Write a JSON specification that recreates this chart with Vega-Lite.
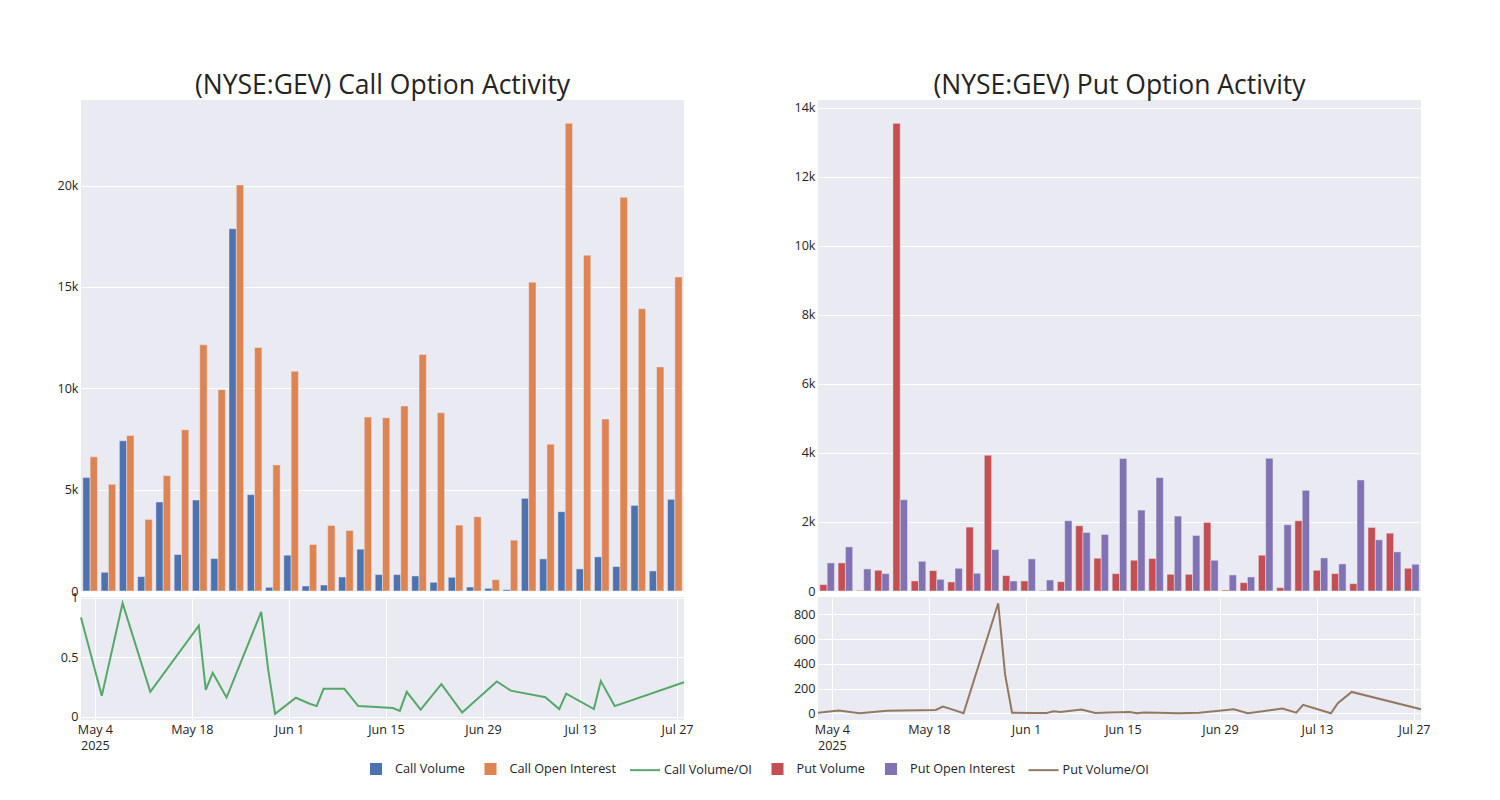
{
  "$schema": "https://vega.github.io/schema/vega-lite/v6.json",
  "autosize": {"type": "pad"},
  "padding": {"left": 56, "top": 72, "right": 10, "bottom": 10},
  "background": "white",
  "config": {
    "view": {"fill": "#EAEAF2", "stroke": null},
    "font": "Open Sans",
    "axis": {"labelFont": "Open Sans", "labelFontSize": 12.6, "labelColor": "#242424", "gridColor": "#FFFFFF", "gridWidth": 1, "domain": false, "ticks": false, "title": null, "labelPadding": 3},
    "title": {"font": "Open Sans", "fontSize": 26.5, "fontWeight": "normal", "color": "#242424", "anchor": "middle"}
  },
  "datasets": {
    "d": [
      {"date": "2025-05-02", "Call Volume": 5594, "Call Open Interest": 6617, "Call Volume/OI": 0.834, "Put Volume": 184, "Put Open Interest": 814, "Put Volume/OI": 5},
      {"date": "2025-05-05", "Call Volume": 924, "Call Open Interest": 5264, "Call Volume/OI": 0.176, "Put Volume": 814, "Put Open Interest": 1279, "Put Volume/OI": 22},
      {"date": "2025-05-08", "Call Volume": 7409, "Call Open Interest": 7673, "Call Volume/OI": 0.955, "Put Volume": 19, "Put Open Interest": 640, "Put Volume/OI": 0},
      {"date": "2025-05-12", "Call Volume": 710, "Call Open Interest": 3531, "Call Volume/OI": 0.21, "Put Volume": 601, "Put Open Interest": 504, "Put Volume/OI": 20},
      {"date": "2025-05-19", "Call Volume": 4389, "Call Open Interest": 5693, "Call Volume/OI": 0.767, "Put Volume": 13547, "Put Open Interest": 2645, "Put Volume/OI": 27},
      {"date": "2025-05-20", "Call Volume": 1799, "Call Open Interest": 7953, "Call Volume/OI": 0.227, "Put Volume": 291, "Put Open Interest": 862, "Put Volume/OI": 55},
      {"date": "2025-05-21", "Call Volume": 4488, "Call Open Interest": 12144, "Call Volume/OI": 0.37, "Put Volume": 591, "Put Open Interest": 339, "Put Volume/OI": 38},
      {"date": "2025-05-23", "Call Volume": 1600, "Call Open Interest": 9933, "Call Volume/OI": 0.162, "Put Volume": 262, "Put Open Interest": 659, "Put Volume/OI": 0},
      {"date": "2025-05-28", "Call Volume": 17870, "Call Open Interest": 20031, "Call Volume/OI": 0.882, "Put Volume": 1851, "Put Open Interest": 514, "Put Volume/OI": 889},
      {"date": "2025-05-29", "Call Volume": 4752, "Call Open Interest": 12012, "Call Volume/OI": 0.4, "Put Volume": 3934, "Put Open Interest": 1202, "Put Volume/OI": 310},
      {"date": "2025-05-30", "Call Volume": 182, "Call Open Interest": 6220, "Call Volume/OI": 0.025, "Put Volume": 446, "Put Open Interest": 291, "Put Volume/OI": 5},
      {"date": "2025-06-02", "Call Volume": 1766, "Call Open Interest": 10840, "Call Volume/OI": 0.16, "Put Volume": 291, "Put Open Interest": 930, "Put Volume/OI": 3},
      {"date": "2025-06-04", "Call Volume": 248, "Call Open Interest": 2294, "Call Volume/OI": 0.11, "Put Volume": 19, "Put Open Interest": 320, "Put Volume/OI": 2},
      {"date": "2025-06-05", "Call Volume": 297, "Call Open Interest": 3234, "Call Volume/OI": 0.09, "Put Volume": 271, "Put Open Interest": 2035, "Put Volume/OI": 17},
      {"date": "2025-06-06", "Call Volume": 693, "Call Open Interest": 2987, "Call Volume/OI": 0.235, "Put Volume": 1890, "Put Open Interest": 1696, "Put Volume/OI": 11},
      {"date": "2025-06-09", "Call Volume": 2063, "Call Open Interest": 8580, "Call Volume/OI": 0.235, "Put Volume": 950, "Put Open Interest": 1638, "Put Volume/OI": 31},
      {"date": "2025-06-11", "Call Volume": 809, "Call Open Interest": 8547, "Call Volume/OI": 0.09, "Put Volume": 504, "Put Open Interest": 3837, "Put Volume/OI": 3},
      {"date": "2025-06-13", "Call Volume": 809, "Call Open Interest": 9125, "Call Volume/OI": 0.085, "Put Volume": 891, "Put Open Interest": 2345, "Put Volume/OI": 6},
      {"date": "2025-06-16", "Call Volume": 743, "Call Open Interest": 11666, "Call Volume/OI": 0.073, "Put Volume": 940, "Put Open Interest": 3285, "Put Volume/OI": 11},
      {"date": "2025-06-17", "Call Volume": 429, "Call Open Interest": 8795, "Call Volume/OI": 0.05, "Put Volume": 484, "Put Open Interest": 2171, "Put Volume/OI": 0},
      {"date": "2025-06-18", "Call Volume": 677, "Call Open Interest": 3251, "Call Volume/OI": 0.21, "Put Volume": 484, "Put Open Interest": 1609, "Put Volume/OI": 6},
      {"date": "2025-06-20", "Call Volume": 198, "Call Open Interest": 3663, "Call Volume/OI": 0.06, "Put Volume": 1986, "Put Open Interest": 891, "Put Volume/OI": 5},
      {"date": "2025-06-23", "Call Volume": 132, "Call Open Interest": 561, "Call Volume/OI": 0.275, "Put Volume": 29, "Put Open Interest": 465, "Put Volume/OI": 0},
      {"date": "2025-06-26", "Call Volume": 66, "Call Open Interest": 2508, "Call Volume/OI": 0.036, "Put Volume": 242, "Put Open Interest": 407, "Put Volume/OI": 5},
      {"date": "2025-07-01", "Call Volume": 4571, "Call Open Interest": 15230, "Call Volume/OI": 0.297, "Put Volume": 1037, "Put Open Interest": 3847, "Put Volume/OI": 33},
      {"date": "2025-07-03", "Call Volume": 1584, "Call Open Interest": 7244, "Call Volume/OI": 0.22, "Put Volume": 97, "Put Open Interest": 1919, "Put Volume/OI": 0},
      {"date": "2025-07-08", "Call Volume": 3911, "Call Open Interest": 23067, "Call Volume/OI": 0.165, "Put Volume": 2035, "Put Open Interest": 2917, "Put Volume/OI": 38},
      {"date": "2025-07-10", "Call Volume": 1089, "Call Open Interest": 16566, "Call Volume/OI": 0.065, "Put Volume": 601, "Put Open Interest": 959, "Put Volume/OI": 5},
      {"date": "2025-07-11", "Call Volume": 1683, "Call Open Interest": 8481, "Call Volume/OI": 0.195, "Put Volume": 504, "Put Open Interest": 785, "Put Volume/OI": 68},
      {"date": "2025-07-15", "Call Volume": 1205, "Call Open Interest": 19421, "Call Volume/OI": 0.065, "Put Volume": 213, "Put Open Interest": 3217, "Put Volume/OI": 0},
      {"date": "2025-07-16", "Call Volume": 4224, "Call Open Interest": 13926, "Call Volume/OI": 0.3, "Put Volume": 1841, "Put Open Interest": 1483, "Put Volume/OI": 82},
      {"date": "2025-07-18", "Call Volume": 990, "Call Open Interest": 11055, "Call Volume/OI": 0.09, "Put Volume": 1676, "Put Open Interest": 1134, "Put Volume/OI": 173},
      {"date": "2025-07-28", "Call Volume": 4521, "Call Open Interest": 15494, "Call Volume/OI": 0.29, "Put Volume": 659, "Put Open Interest": 775, "Put Volume/OI": 33}
    ]
  },
  "data": {"name": "d"},
  "columns": 2,
  "spacing": {"row": 6, "column": 134},
  "bounds": "flush",
  "resolve": {"scale": {"color": "shared", "xOffset": "independent"}, "legend": {"color": "shared"}},
  "concat": [
    {
      "width": 603, "height": 491,
      "title": {"text": "(NYSE:GEV) Call Option Activity", "offset": -20, "baseline": "alphabetic"},
      "layer": [
        {
          "transform": [{"fold": ["Call Volume", "Call Open Interest"], "as": ["series", "value"]}],
          "mark": {"type": "bar", "stroke": "#EAEAF2", "strokeWidth": 0.5},
          "encoding": {
            "x": {"field": "date", "type": "ordinal", "scale": {"paddingInner": 0.2, "paddingOuter": 0.1}, "axis": {"values": ["2025-05-02", "2025-05-20", "2025-05-30", "2025-06-09", "2025-06-18", "2025-07-03", "2025-07-16"], "labels": false, "grid": true}},
            "xOffset": {"field": "series", "type": "nominal", "scale": {"domain": ["Call Volume", "Call Open Interest"], "paddingInner": 0, "paddingOuter": 0}},
            "y": {"field": "value", "type": "quantitative", "scale": {"domain": [0, 24220], "nice": false}, "axis": {"values": [0, 5000, 10000, 15000, 20000], "labelExpr": "datum.value == 0 ? '0' : (datum.value / 1000) + 'k'"}},
            "color": {"field": "series", "type": "nominal",
              "scale": {"domain": ["Call Volume", "Call Open Interest", "Call Volume/OI", "Put Volume", "Put Open Interest", "Put Volume/OI"], "range": ["#4C72B0", "#DD8452", "#55A868", "#C44E52", "#8172B3", "#937860"]},
              "legend": {"title": null, "orient": "none", "legendX": 279, "legendY": 653, "direction": "horizontal", "symbolSize": 900, "symbolStrokeWidth": 2, "symbolOpacity": 1, "labelFont": "Open Sans", "labelFontSize": 12.7, "labelColor": "#242424", "labelOffset": 3, "columnPadding": 9.5}}
          }
        },
        {
          "transform": [{"fold": ["Call Volume", "Call Open Interest", "Call Volume/OI", "Put Volume", "Put Open Interest", "Put Volume/OI"], "as": ["series", "value"]}],
          "mark": {"type": "point", "filled": false, "opacity": 0, "strokeWidth": 2},
          "encoding": {
            "x": {"field": "date", "type": "ordinal"},
            "y": {"field": "value", "type": "quantitative", "scale": {"domain": [0, 24220], "nice": false}},
            "color": {"field": "series", "type": "nominal",
              "scale": {"domain": ["Call Volume", "Call Open Interest", "Call Volume/OI", "Put Volume", "Put Open Interest", "Put Volume/OI"], "range": ["#4C72B0", "#DD8452", "#55A868", "#C44E52", "#8172B3", "#937860"]},
              "legend": {"title": null, "orient": "none", "legendX": 279, "legendY": 653, "direction": "horizontal", "symbolSize": 900, "symbolStrokeWidth": 2, "symbolOpacity": 1, "labelFont": "Open Sans", "labelFontSize": 12.7, "labelColor": "#242424", "labelOffset": 3, "columnPadding": 9.5}},
            "shape": {"field": "series", "type": "nominal",
              "scale": {"domain": ["Call Volume", "Call Open Interest", "Call Volume/OI", "Put Volume", "Put Open Interest", "Put Volume/OI"], "range": [
                "M-0.4,-0.3333H0.4M-0.4,-0.2H0.4M-0.4,-0.0667H0.4M-0.4,0.0667H0.4M-0.4,0.2H0.4M-0.4,0.3333H0.4",
                "M-0.4,-0.3333H0.4M-0.4,-0.2H0.4M-0.4,-0.0667H0.4M-0.4,0.0667H0.4M-0.4,0.2H0.4M-0.4,0.3333H0.4",
                "M-1,0H1",
                "M-0.4,-0.3333H0.4M-0.4,-0.2H0.4M-0.4,-0.0667H0.4M-0.4,0.0667H0.4M-0.4,0.2H0.4M-0.4,0.3333H0.4",
                "M-0.4,-0.3333H0.4M-0.4,-0.2H0.4M-0.4,-0.0667H0.4M-0.4,0.0667H0.4M-0.4,0.2H0.4M-0.4,0.3333H0.4",
                "M-1,0H1"]},
              "legend": {"title": null, "orient": "none", "legendX": 279, "legendY": 653, "direction": "horizontal", "symbolSize": 900, "symbolStrokeWidth": 2, "symbolOpacity": 1, "labelFont": "Open Sans", "labelFontSize": 12.7, "labelColor": "#242424", "labelOffset": 3, "columnPadding": 9.5}}
          }
        }
      ]
    },
    {
      "width": 603, "height": 491,
      "title": {"text": "(NYSE:GEV) Put Option Activity", "offset": -20, "baseline": "alphabetic"},
      "transform": [{"fold": ["Put Volume", "Put Open Interest"], "as": ["series", "value"]}],
      "mark": {"type": "bar", "stroke": "#EAEAF2", "strokeWidth": 0.5},
      "encoding": {
        "x": {"field": "date", "type": "ordinal", "scale": {"paddingInner": 0.2, "paddingOuter": 0.1}, "axis": {"values": ["2025-05-02", "2025-05-20", "2025-05-30", "2025-06-09", "2025-06-18", "2025-07-03", "2025-07-16"], "labels": false, "grid": true}},
        "xOffset": {"field": "series", "type": "nominal", "scale": {"domain": ["Put Volume", "Put Open Interest"], "paddingInner": 0, "paddingOuter": 0}},
        "y": {"field": "value", "type": "quantitative", "scale": {"domain": [0, 14224], "nice": false}, "axis": {"values": [0, 2000, 4000, 6000, 8000, 10000, 12000, 14000], "labelExpr": "datum.value == 0 ? '0' : (datum.value / 1000) + 'k'"}},
        "color": {"field": "series", "type": "nominal",
          "scale": {"domain": ["Call Volume", "Call Open Interest", "Call Volume/OI", "Put Volume", "Put Open Interest", "Put Volume/OI"], "range": ["#4C72B0", "#DD8452", "#55A868", "#C44E52", "#8172B3", "#937860"]},
          "legend": null}
      }
    },
    {
      "width": 603, "height": 123,
      "transform": [{"fold": ["Call Volume/OI"], "as": ["series", "value"]}],
      "mark": {"type": "line", "strokeWidth": 2},
      "encoding": {
        "x": {"field": "date", "type": "temporal",
          "scale": {"type": "utc", "domain": [{"year": 2025, "month": 5, "date": 2, "utc": true}, {"year": 2025, "month": 7, "date": 28, "utc": true}]},
          "axis": {"grid": true, "labelLineHeight": 16,
            "values": [{"year": 2025, "month": 5, "date": 4, "utc": true}, {"year": 2025, "month": 5, "date": 18, "utc": true}, {"year": 2025, "month": 6, "date": 1, "utc": true}, {"year": 2025, "month": 6, "date": 15, "utc": true}, {"year": 2025, "month": 6, "date": 29, "utc": true}, {"year": 2025, "month": 7, "date": 13, "utc": true}, {"year": 2025, "month": 7, "date": 27, "utc": true}],
            "labelExpr": "(utcmonth(datum.value) == 4 && utcdate(datum.value) == 4) ? [utcFormat(datum.value, '%b %-d'), '2025'] : utcFormat(datum.value, '%b %-d')"}},
        "y": {"field": "value", "type": "quantitative", "scale": {"domain": [-0.027, 1.007], "nice": false, "zero": false}, "axis": {"values": [0, 0.5, 1], "format": "~g"}},
        "color": {"field": "series", "type": "nominal",
          "scale": {"domain": ["Call Volume", "Call Open Interest", "Call Volume/OI", "Put Volume", "Put Open Interest", "Put Volume/OI"], "range": ["#4C72B0", "#DD8452", "#55A868", "#C44E52", "#8172B3", "#937860"]},
          "legend": null}
      }
    },
    {
      "width": 603, "height": 123,
      "transform": [{"fold": ["Put Volume/OI"], "as": ["series", "value"]}],
      "mark": {"type": "line", "strokeWidth": 2},
      "encoding": {
        "x": {"field": "date", "type": "temporal",
          "scale": {"type": "utc", "domain": [{"year": 2025, "month": 5, "date": 2, "utc": true}, {"year": 2025, "month": 7, "date": 28, "utc": true}]},
          "axis": {"grid": true, "labelLineHeight": 16,
            "values": [{"year": 2025, "month": 5, "date": 4, "utc": true}, {"year": 2025, "month": 5, "date": 18, "utc": true}, {"year": 2025, "month": 6, "date": 1, "utc": true}, {"year": 2025, "month": 6, "date": 15, "utc": true}, {"year": 2025, "month": 6, "date": 29, "utc": true}, {"year": 2025, "month": 7, "date": 13, "utc": true}, {"year": 2025, "month": 7, "date": 27, "utc": true}],
            "labelExpr": "(utcmonth(datum.value) == 4 && utcdate(datum.value) == 4) ? [utcFormat(datum.value, '%b %-d'), '2025'] : utcFormat(datum.value, '%b %-d')"}},
        "y": {"field": "value", "type": "quantitative", "scale": {"domain": [-54, 940], "nice": false, "zero": false}, "axis": {"values": [0, 200, 400, 600, 800]}},
        "color": {"field": "series", "type": "nominal",
          "scale": {"domain": ["Call Volume", "Call Open Interest", "Call Volume/OI", "Put Volume", "Put Open Interest", "Put Volume/OI"], "range": ["#4C72B0", "#DD8452", "#55A868", "#C44E52", "#8172B3", "#937860"]},
          "legend": null}
      }
    }
  ]
}
